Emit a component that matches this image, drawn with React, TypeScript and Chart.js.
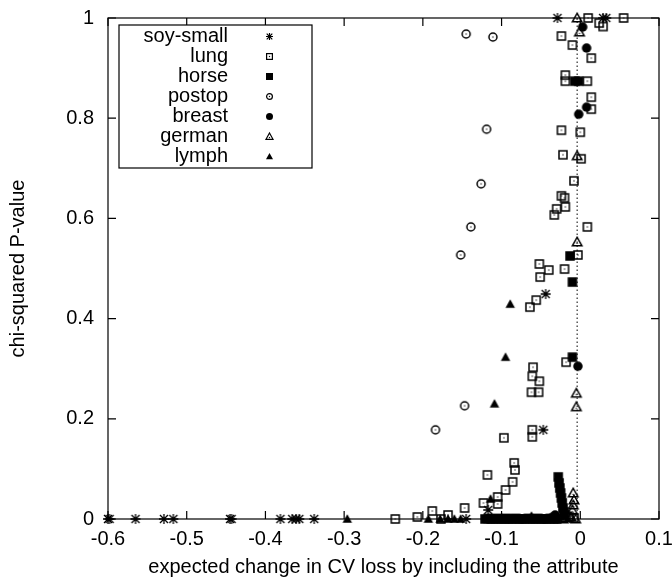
import React, { useEffect, useRef } from "react";
import { Chart, registerables } from "chart.js";

Chart.register(...registerables);

// ---- data (x = expected change in CV loss, y = chi-squared P-value) ----
const seriesNames = ["soy-small", "lung", "horse", "postop", "breast", "german", "lymph"];

const soySmall: [number, number][] = [
  [-0.6, 0], [-0.598, 0], [-0.565, 0], [-0.529, 0], [-0.517, 0], [-0.445, 0], [-0.443, 0],
  [-0.381, 0], [-0.366, 0], [-0.361, 0], [-0.357, 0], [-0.338, 0], [-0.145, 0], [-0.117, 0.018],
  [-0.047, 0.178], [-0.044, 0.449], [-0.029, 1.0], [0.029, 1.0], [0.033, 1.0],
];

const lung: [number, number][] = [
  [0.010, 1.0], [0.055, 1.0], [0.024, 0.99], [0.029, 0.983], [-0.024, 0.964], [-0.010, 0.946],
  [0.014, 0.92], [-0.019, 0.886], [-0.019, 0.874], [0.009, 0.874], [0.014, 0.842], [0.014, 0.818],
  [-0.024, 0.776], [0.0, 0.772], [-0.022, 0.727], [0.001, 0.719], [-0.008, 0.675], [-0.024, 0.645],
  [-0.020, 0.641], [-0.019, 0.623], [-0.030, 0.619], [-0.033, 0.607], [0.009, 0.583], [-0.003, 0.527],
  [-0.052, 0.509], [-0.040, 0.497], [-0.051, 0.483], [-0.020, 0.499], [-0.056, 0.437], [-0.064, 0.423],
  [-0.018, 0.313], [-0.060, 0.303], [-0.061, 0.285], [-0.052, 0.275], [-0.062, 0.253], [-0.053, 0.253],
  [-0.061, 0.178], [-0.061, 0.164], [-0.097, 0.162], [-0.084, 0.112], [-0.083, 0.098], [-0.118, 0.088],
  [-0.086, 0.074], [-0.095, 0.058], [-0.105, 0.044], [-0.105, 0.030], [-0.123, 0.032], [-0.147, 0.022],
  [-0.188, 0.016], [-0.168, 0.008], [-0.235, 0.0], [-0.207, 0.004], [-0.177, 0.0], [-0.014, 0.004],
  [-0.008, 0.002],
];

const horse: [number, number][] = [
  [-0.007, 0.874], [-0.002, 0.874], [-0.013, 0.525], [-0.010, 0.473], [-0.010, 0.323],
  [-0.028, 0.084], [-0.027, 0.072], [-0.026, 0.062], [-0.025, 0.052], [-0.024, 0.042],
  [-0.023, 0.032], [-0.022, 0.022], [-0.021, 0.014], [-0.020, 0.006],
  [-0.121, 0.0], [-0.117, 0.001], [-0.113, 0.0], [-0.109, 0.0], [-0.105, 0.001], [-0.101, 0.0],
  [-0.097, 0.0], [-0.094, 0.001], [-0.090, 0.0], [-0.086, 0.0], [-0.082, 0.001], [-0.078, 0.0],
  [-0.074, 0.0], [-0.070, 0.0], [-0.066, 0.001], [-0.062, 0.0], [-0.058, 0.0], [-0.054, 0.001],
  [-0.050, 0.0], [-0.046, 0.0], [-0.042, 0.0], [-0.038, 0.001], [-0.034, 0.0], [-0.030, 0.0],
];

const postop: [number, number][] = [
  [-0.145, 0.968], [-0.111, 0.962], [-0.119, 0.778], [-0.126, 0.669], [-0.139, 0.583],
  [-0.152, 0.527], [-0.147, 0.226], [-0.184, 0.178],
];

const breast: [number, number][] = [
  [0.003, 0.982], [0.008, 0.94], [0.008, 0.822], [-0.002, 0.808], [-0.003, 0.305],
  [-0.032, 0.008], [-0.036, 0.003],
];

const german: [number, number][] = [
  [-0.004, 1.0], [-0.001, 0.972], [-0.004, 0.725], [-0.004, 0.553], [-0.005, 0.251], [-0.005, 0.224],
  [-0.009, 0.052], [-0.008, 0.038], [-0.009, 0.028], [-0.010, 0.018], [-0.015, 0.008],
  [-0.019, 0.002], [-0.022, 0.0], [-0.006, 0.0], [-0.012, 0.004],
];

const lymph: [number, number][] = [
  [-0.296, 0], [-0.193, 0], [-0.178, 0], [-0.168, 0], [-0.160, 0], [-0.152, 0],
  [-0.114, 0.040], [-0.109, 0.230], [-0.095, 0.323], [-0.089, 0.429], [-0.062, 0.006],
];

const dottedLineX = -0.004;

const xTickValues = [-0.6, -0.5, -0.4, -0.3, -0.2, -0.1, 0, 0.1];
const xTickLabels = ["-0.6", "-0.5", "-0.4", "-0.3", "-0.2", "-0.1", "0", "0.1"];
const yTickValues = [0, 0.2, 0.4, 0.6, 0.8, 1];
const yTickLabels = ["0", "0.2", "0.4", "0.6", "0.8", "1"];

const xTitle = "expected change in CV loss by including the attribute";
const yTitle = "chi-squared P-value";

const FONT = "'Liberation Sans', Arial, Helvetica, sans-serif";

type Kind = "asterisk" | "squareDot" | "square" | "circleDot" | "circle" | "triDot" | "tri";
const kinds: Kind[] = ["asterisk", "squareDot", "square", "circleDot", "circle", "triDot", "tri"];

function makeMarker(kind: Kind, s: number, lw: number): HTMLCanvasElement {
  const pad = 2;
  const n = Math.ceil(s) + pad * 2;
  const c = document.createElement("canvas");
  c.width = n;
  c.height = n;
  const g = c.getContext("2d")!;
  const m = n / 2;
  const h = s / 2;
  g.strokeStyle = "#000";
  g.fillStyle = "#000";
  g.lineWidth = lw;
  const dot = (x: number, y: number) => {
    g.fillStyle = "#111";
    g.fillRect(x - 0.6, y - 0.6, 1.2, 1.2);
  };
  switch (kind) {
    case "asterisk":
      g.beginPath();
      g.moveTo(m - h, m); g.lineTo(m + h, m);
      g.moveTo(m, m - h); g.lineTo(m, m + h);
      g.moveTo(m - h * 0.8, m - h * 0.8); g.lineTo(m + h * 0.8, m + h * 0.8);
      g.moveTo(m - h * 0.8, m + h * 0.8); g.lineTo(m + h * 0.8, m - h * 0.8);
      g.stroke();
      break;
    case "squareDot":
      g.strokeRect(m - h + lw / 2, m - h + lw / 2, s - lw, s - lw);
      dot(m, m);
      break;
    case "square":
      g.fillRect(m - h, m - h, s, s);
      break;
    case "circleDot":
      g.beginPath();
      g.arc(m, m, h - lw / 2, 0, Math.PI * 2);
      g.stroke();
      dot(m, m);
      break;
    case "circle":
      g.beginPath();
      g.arc(m, m, h, 0, Math.PI * 2);
      g.fill();
      break;
    case "triDot":
      g.beginPath();
      g.moveTo(m, m - h);
      g.lineTo(m + h, m + h * 0.8);
      g.lineTo(m - h, m + h * 0.8);
      g.closePath();
      g.stroke();
      dot(m, m + h * 0.3);
      break;
    case "tri":
      g.beginPath();
      g.moveTo(m, m - h);
      g.lineTo(m + h, m + h * 0.8);
      g.lineTo(m - h, m + h * 0.8);
      g.closePath();
      g.fill();
      break;
  }
  return c;
}

export default function App() {
  const ref = useRef<HTMLCanvasElement | null>(null);

  useEffect(() => {
    if (!ref.current) return;
    const plotMarkers = kinds.map((k) => makeMarker(k, k === "asterisk" ? 10 : 9.5, k === "asterisk" ? 1.3 : 1.5));
    const legendMarkers = kinds.map((k) => makeMarker(k, 7, 1.2));
    const allSeries = [soySmall, lung, horse, postop, breast, german, lymph];

    const framePlugin = {
      id: "frame",
      beforeDatasetsDraw(chart: any) {
        const { ctx, chartArea, scales } = chart;
        const { left, right, top, bottom } = chartArea;
        ctx.save();
        ctx.strokeStyle = "#000";
        ctx.lineWidth = 1.2;
        ctx.strokeRect(left, top, right - left, bottom - top);
        ctx.beginPath();
        const tl = 8;
        xTickValues.forEach((v) => {
          const px = scales.x.getPixelForValue(v);
          ctx.moveTo(px, bottom); ctx.lineTo(px, bottom - tl);
          ctx.moveTo(px, top); ctx.lineTo(px, top + tl);
        });
        yTickValues.forEach((v) => {
          const py = scales.y.getPixelForValue(v);
          ctx.moveTo(left, py); ctx.lineTo(left + tl, py);
          ctx.moveTo(right, py); ctx.lineTo(right - tl, py);
        });
        ctx.stroke();
        ctx.restore();
      },
      afterDatasetsDraw(chart: any) {
        const { ctx, chartArea } = chart;
        const bx = chartArea.left + 11;
        const by = chartArea.top + 7;
        const bw = 193;
        const bh = 143;
        ctx.save();
        ctx.fillStyle = "#fff";
        ctx.fillRect(bx, by, bw, bh);
        ctx.strokeStyle = "#000";
        ctx.lineWidth = 1.2;
        ctx.strokeRect(bx, by, bw, bh);
        ctx.font = `20px ${FONT}`;
        ctx.fillStyle = "#000";
        ctx.textAlign = "right";
        ctx.textBaseline = "middle";
        seriesNames.forEach((name, i) => {
          const cy = by + 11 + i * 20;
          ctx.fillText(name, bx + 109, cy);
          const mk = legendMarkers[i];
          ctx.drawImage(mk, Math.round(bx + 150 - mk.width / 2), Math.round(cy - mk.height / 2));
        });
        ctx.restore();
      },
    };

    const datasets: any[] = allSeries.map((pts, i) => ({
      type: "scatter",
      label: seriesNames[i],
      data: pts.map(([x, y]) => ({ x, y })),
      pointStyle: plotMarkers[i],
      pointRadius: 4.5,
      clip: false,
      order: 10 - i,
    }));
    datasets.push({
      type: "line",
      label: "zero",
      data: [{ x: dottedLineX, y: 0 }, { x: dottedLineX, y: 1 }],
      borderColor: "#000",
      borderWidth: 1,
      borderDash: [1.5, 2.5],
      pointRadius: 0,
      fill: false,
      order: 20,
    });

    const chart = new Chart(ref.current, {
      type: "scatter",
      data: { datasets },
      options: {
        responsive: false,
        animation: false,
        devicePixelRatio: 1,
        layout: { padding: { top: 18, right: 13, left: 0, bottom: 0 } },
        plugins: { legend: { display: false }, tooltip: { enabled: false } },
        scales: {
          x: {
            type: "linear",
            min: -0.6,
            max: 0.1,
            grid: { display: false, drawTicks: false, tickLength: 0 },
            border: { display: false },
            afterBuildTicks: (s: any) => {
              s.ticks = xTickValues.map((v) => ({ value: v }));
            },
            afterFit: (s: any) => {
              s.height = 68;
              s.paddingLeft = 0;
              s.paddingRight = 0;
            },
            ticks: {
              padding: 8,
              color: "#000",
              font: { family: FONT, size: 20 },
              maxRotation: 0,
              autoSkip: false,
              callback: (_v: any, i: number) => xTickLabels[i],
            },
            title: {
              display: true,
              text: xTitle,
              color: "#000",
              font: { family: FONT, size: 20 },
              padding: { top: 0, bottom: 8 },
            },
          },
          y: {
            type: "linear",
            min: 0,
            max: 1,
            grid: { display: false, drawTicks: false, tickLength: 0 },
            border: { display: false },
            afterBuildTicks: (s: any) => {
              s.ticks = yTickValues.map((v) => ({ value: v }));
            },
            afterFit: (s: any) => {
              s.width = 108;
              s.paddingTop = 0;
              s.paddingBottom = 0;
            },
            ticks: {
              padding: 14,
              color: "#000",
              font: { family: FONT, size: 20 },
              autoSkip: false,
              callback: (_v: any, i: number) => yTickLabels[i],
            },
            title: {
              display: true,
              text: yTitle,
              color: "#000",
              font: { family: FONT, size: 20 },
              padding: { top: 6, bottom: 0 },
            },
          },
        },
      },
      plugins: [framePlugin],
    } as any);

    return () => chart.destroy();
  }, []);

  return (
    <div style={{ position: "absolute", left: 0, top: 0, width: 672, height: 587, background: "#fff" }}>
      <canvas ref={ref} width={672} height={587} style={{ display: "block", width: 672, height: 587 }} />
    </div>
  );
}
